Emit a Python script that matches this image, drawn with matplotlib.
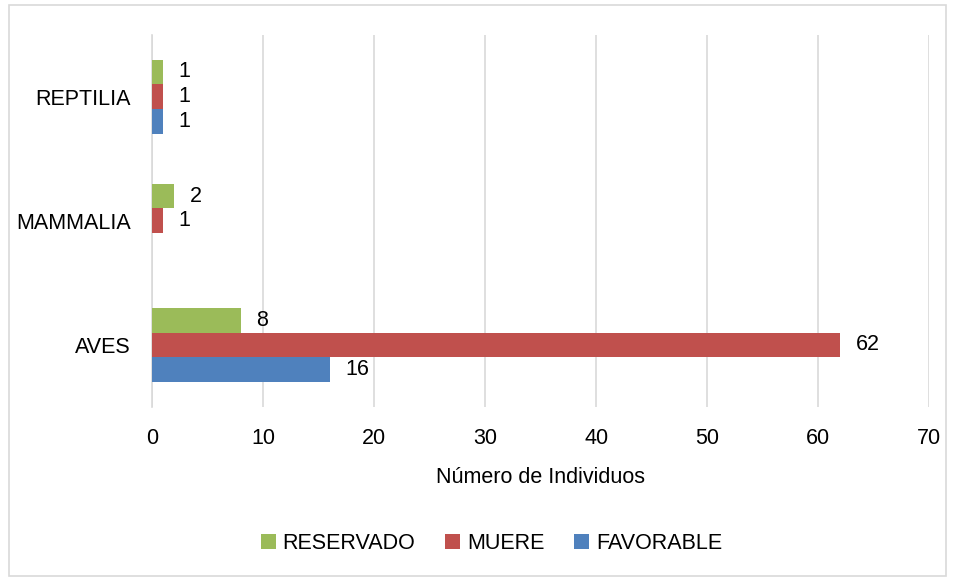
import matplotlib
matplotlib.use('Agg')
import matplotlib.pyplot as plt
import numpy as np
from matplotlib.patches import Rectangle

plt.rcParams['font.family'] = ['Liberation Sans Narrow', 'Liberation Sans', 'DejaVu Sans']

# datos
categorias = ['AVES', 'MAMMALIA', 'REPTILIA']
favorable = [16, 0, 1]
muere = [62, 1, 1]
reservado = [8, 2, 1]
series = ['FAVORABLE', 'MUERE', 'RESERVADO']
colores = ['#4F81BD', '#C0504D', '#9BBB59']
xticks = [0, 10, 20, 30, 40, 50, 60, 70]

fig = plt.figure(figsize=(9.56, 5.79), dpi=100)
ax = fig.add_axes([0.159, 0.297, 0.813, 0.643])

# marco gris alrededor del grafico
fig.patches.append(Rectangle((0.009, 0.006), 0.981, 0.985, transform=fig.transFigure,
                             fill=False, edgecolor='#D9D9D9', linewidth=1.2))

y = np.arange(len(categorias))
h = 0.2
valores = [favorable, muere, reservado]
for i, (vals, nombre, col) in enumerate(zip(valores, series, colores)):
    pos = y + (i - 1) * h
    bars = ax.barh(pos, vals, height=h, color=col, label=nombre, zorder=3)
    for b, v in zip(bars, vals):
        if v > 0:
            ax.text(v + 1.4, b.get_y() + h / 2, str(v), va='center', ha='left',
                    fontsize=15.5, color='black')

ax.set_xlim(0, 70)
ax.set_ylim(-0.5, 2.5)
ax.set_xticks(xticks)
ax.set_yticks(y)
ax.set_yticklabels(categorias)
ax.tick_params(axis='both', length=0, labelsize=15.5, colors='black')
ax.tick_params(axis='y', pad=15)
ax.tick_params(axis='x', pad=15)
ax.grid(axis='x', color='#D9D9D9', linewidth=1.2, zorder=0)
for s in ['top', 'right', 'bottom']:
    ax.spines[s].set_visible(False)
ax.spines['left'].set_color('#D9D9D9')
ax.spines['left'].set_linewidth(1.2)

ax.set_xlabel('Número de Individuos', fontsize=15.5, labelpad=13)

handles, labels = ax.get_legend_handles_labels()
fig.legend(handles[::-1], labels[::-1], loc='center', bbox_to_anchor=(0.514, 0.062),
           ncol=3, frameon=False, fontsize=15.5, handlelength=0.7, handleheight=0.7,
           handletextpad=0.3, columnspacing=1.4)

fig.savefig('out.png', dpi=100)
